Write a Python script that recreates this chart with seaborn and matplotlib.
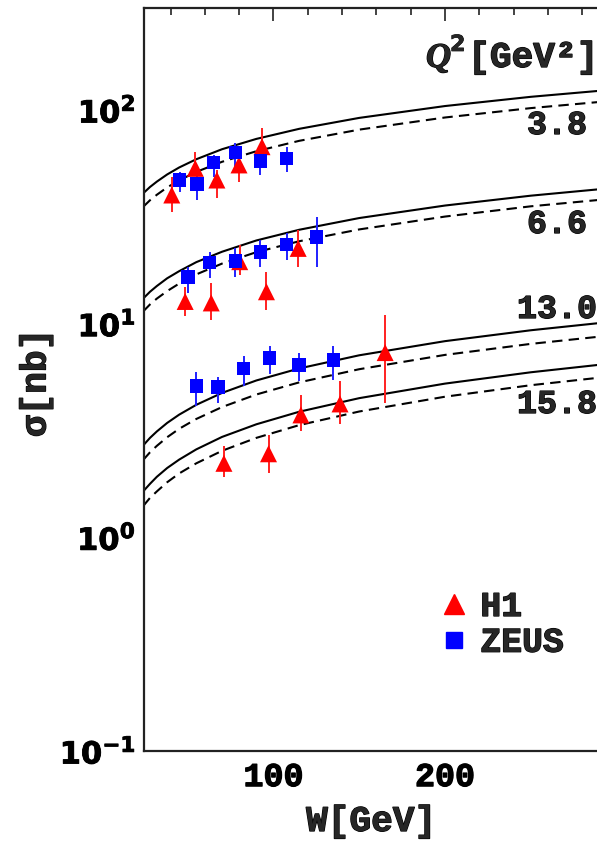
import numpy as np
import pandas as pd
import matplotlib
matplotlib.use("Agg")
import matplotlib.pyplot as plt
from matplotlib.ticker import FixedLocator, NullFormatter
from matplotlib.lines import Line2D
import matplotlib.patheffects as pe
import seaborn as sns

# ---------------- data ----------------
q2_labels = ["3.8", "6.6", "13.0", "15.8"]

# model curves: W grid and sigma values (solid and dashed) per Q^2
curve_w = [24, 28, 32, 38, 45, 55, 70, 90, 115, 150, 200, 250, 300]
solid_38 = [40.7, 43.6, 46.2, 49.9, 53.8, 58.8, 65.5, 73.2, 81.6, 91.8, 104.3, 115.2, 124.9]
dashed_38 = [35.2, 37.8, 40.1, 43.4, 46.8, 51.3, 57.2, 64.1, 71.7, 80.9, 92.2, 102.0, 110.8]
solid_66 = [13.1, 14.1, 15.0, 16.3, 17.6, 19.4, 21.7, 24.5, 27.5, 31.2, 35.7, 39.7, 43.3]
dashed_66 = [11.4, 12.3, 13.1, 14.2, 15.4, 17.0, 19.1, 21.6, 24.3, 27.6, 31.7, 35.4, 38.6]
solid_130 = [2.69, 2.92, 3.13, 3.43, 3.75, 4.17, 4.74, 5.42, 6.17, 7.11, 8.28, 9.31, 10.26]
dashed_130 = [2.30, 2.50, 2.68, 2.94, 3.22, 3.58, 4.07, 4.66, 5.31, 6.12, 7.14, 8.04, 8.86]
solid_158 = [1.64, 1.78, 1.92, 2.11, 2.31, 2.58, 2.95, 3.38, 3.87, 4.48, 5.24, 5.92, 6.55]
dashed_158 = [1.40, 1.53, 1.64, 1.81, 1.99, 2.22, 2.54, 2.92, 3.35, 3.88, 4.55, 5.15, 5.70]

# H1 points: W, sigma, lower and upper error-bar ends
h1_w = [40.7, 54.4, 67.0, 79.9, 93.3,
        48.5, 63.7, 80.3, 95.9, 114.4,
        165.1,
        71.1, 97.1, 116.0, 138.8]
h1_sigma = [40.0, 53.3, 47.0, 55.3, 67.3,
            12.7, 12.5, 19.5, 14.1, 22.5,
            7.32,
            2.22, 2.46, 3.74, 4.21]
h1_lo = [33.4, 49.6, 38.6, 46.1, 61.6,
         10.8, 10.4, 16.8, 11.6, 18.5,
         4.25,
         1.91, 2.00, 3.16, 3.40]
h1_hi = [48.8, 63.8, 52.4, 63.8, 82.0,
         14.9, 15.5, 23.3, 17.5, 27.4,
         11.0,
         2.68, 3.01, 4.63, 5.41]

# ZEUS points
zeus_w = [45.2, 55.3, 65.1, 77.8, 92.4, 107.6,
          50.1, 62.7, 77.8, 92.4, 107.6, 125.1,
          55.0, 67.8, 82.6, 97.7, 115.0, 134.9]
zeus_sigma = [47.0, 44.9, 56.9, 63.1, 57.7, 59.4,
              16.5, 19.3, 19.6, 21.7, 23.5, 25.5,
              5.11, 5.04, 6.18, 6.89, 6.41, 6.76]
zeus_lo = [41.5, 38.0, 48.8, 54.3, 49.6, 51.4,
           13.9, 16.3, 16.6, 18.5, 19.9, 18.5,
           4.12, 4.24, 5.11, 5.80, 5.41, 5.46]
zeus_hi = [51.4, 52.4, 61.6, 69.8, 67.3, 67.3,
           18.5, 21.7, 22.5, 24.7, 26.5, 31.7,
           5.96, 5.65, 7.06, 7.87, 7.32, 7.87]

x_major = [100, 200]
x_major_labels = ["100", "200"]
y_major = [0.1, 1, 10, 100]
y_major_labels = [r"$\mathbf{10^{-1}}$", r"$\mathbf{10^{0}}$", r"$\mathbf{10^{1}}$", r"$\mathbf{10^{2}}$"]

# ---------------- figure ----------------
sns.set_theme(style="white")
plt.rcParams["font.family"] = ["Liberation Mono", "DejaVu Sans"]
plt.rcParams["mathtext.fontset"] = "dejavusans"

W_PX, H_PX = 597, 841
fig = plt.figure(figsize=(W_PX / 100, H_PX / 100), dpi=100)

def px(x, y):
    return x / W_PX, 1 - y / H_PX

heavy = [pe.withStroke(linewidth=0.9, foreground="black")]

ax_left, ax_right, ax_top, ax_bottom = 144, 616.5, 8, 751
ax = fig.add_axes([ax_left / W_PX, 1 - ax_bottom / H_PX,
                   (ax_right - ax_left) / W_PX, (ax_bottom - ax_top) / H_PX])
ax.set_yscale("log")

curves = [(solid_38, dashed_38), (solid_66, dashed_66),
          (solid_130, dashed_130), (solid_158, dashed_158)]
for s, d in curves:
    sns.lineplot(x=curve_w, y=s, ax=ax, color="black", lw=1.5, sort=False)
    sns.lineplot(x=curve_w, y=d, ax=ax, color="black", lw=1.5, sort=False,
                 linestyle=(0, (5, 3)))

ax.vlines(h1_w, h1_lo, h1_hi, color="#ff2020", lw=1.4, zorder=3)
ax.vlines(zeus_w, zeus_lo, zeus_hi, color="#2020ff", lw=1.4, zorder=3)

h1_df = pd.DataFrame({"W": h1_w, "sigma": h1_sigma})
zeus_df = pd.DataFrame({"W": zeus_w, "sigma": zeus_sigma})
sns.scatterplot(data=h1_df, x="W", y="sigma", ax=ax, marker="^", color="red",
                s=150, edgecolor="none", zorder=4)
sns.scatterplot(data=zeus_df, x="W", y="sigma", ax=ax, marker="s", color="blue",
                s=95, edgecolor="none", zorder=5)

ax.set_xlim(24.5, 300)
ax.set_ylim(0.1, 300)

ax.xaxis.set_major_locator(FixedLocator(x_major))
ax.set_xticklabels(x_major_labels, fontsize=24, fontweight="bold",
                   family="Liberation Mono")
for t in ax.get_xticklabels():
    t.set_path_effects(heavy)
ax.xaxis.set_minor_locator(FixedLocator([v for v in range(40, 300, 20) if v not in x_major]))
ax.yaxis.set_major_locator(FixedLocator(y_major))
ax.set_yticklabels(y_major_labels, fontsize=22)
for t in ax.get_yticklabels():
    t.set_path_effects([pe.withStroke(linewidth=0.6, foreground="black")])
minor_y = [m * 10.0 ** e for e in range(-1, 3) for m in range(2, 10)]
ax.yaxis.set_minor_locator(FixedLocator(minor_y))
ax.yaxis.set_minor_formatter(NullFormatter())

ax.tick_params(which="major", direction="in", length=9.5, width=1.2,
               top=True, right=True, colors="#222222", labelcolor="black")
ax.tick_params(which="minor", direction="in", length=5, width=1.2,
               top=True, right=True, colors="#222222")
ax.tick_params(axis="x", pad=8)
ax.tick_params(axis="y", pad=6)
for sp in ax.spines.values():
    sp.set_linewidth(1.6)
    sp.set_color("#222222")
ax.set_xlabel("")
ax.set_ylabel("")

bold_mono = dict(family="Liberation Mono", fontweight="bold", path_effects=heavy)

# axis labels
fig.text(*px(371, 831), "W[GeV]", fontsize=26, ha="center", va="baseline", **bold_mono)
fig.text(*px(36, 383), "σ[nb]", fontsize=26, rotation=90, ha="center", va="center", **bold_mono)

# Q^2 header
fig.text(*px(598, 67), "[GeV²]", fontsize=26, ha="right", va="baseline", **bold_mono)
fig.text(*px(426, 67), "Q", fontsize=25, ha="left", va="baseline",
         family="Liberation Serif", fontweight="bold", style="italic",
         path_effects=heavy)
fig.text(*px(450, 51), "2", fontsize=16, ha="left", va="baseline",
         family="DejaVu Sans", fontweight="bold",
         path_effects=[pe.withStroke(linewidth=0.5, foreground="black")])

# curve labels
label_pos = [(557, 134), (557, 233), (557, 318), (557, 413)]
for lab, (x, y) in zip(q2_labels, label_pos):
    fig.text(*px(x, y), lab, fontsize=24, ha="center", va="baseline", **bold_mono)

# legend
handles = [Line2D([], [], marker="^", color="red", linestyle="none", markersize=14),
           Line2D([], [], marker="s", color="blue", linestyle="none", markersize=11)]
leg = fig.legend(handles, ["H1", "ZEUS"], loc="upper left",
                 bbox_to_anchor=px(437, 590), frameon=False,
                 prop=dict(family="Liberation Mono", weight="bold", size=25),
                 handlelength=1.0, handletextpad=0.25, labelspacing=0.08,
                 borderaxespad=0, borderpad=0)
for t in leg.get_texts():
    t.set_path_effects(heavy)

fig.savefig("out.png", dpi=100)
